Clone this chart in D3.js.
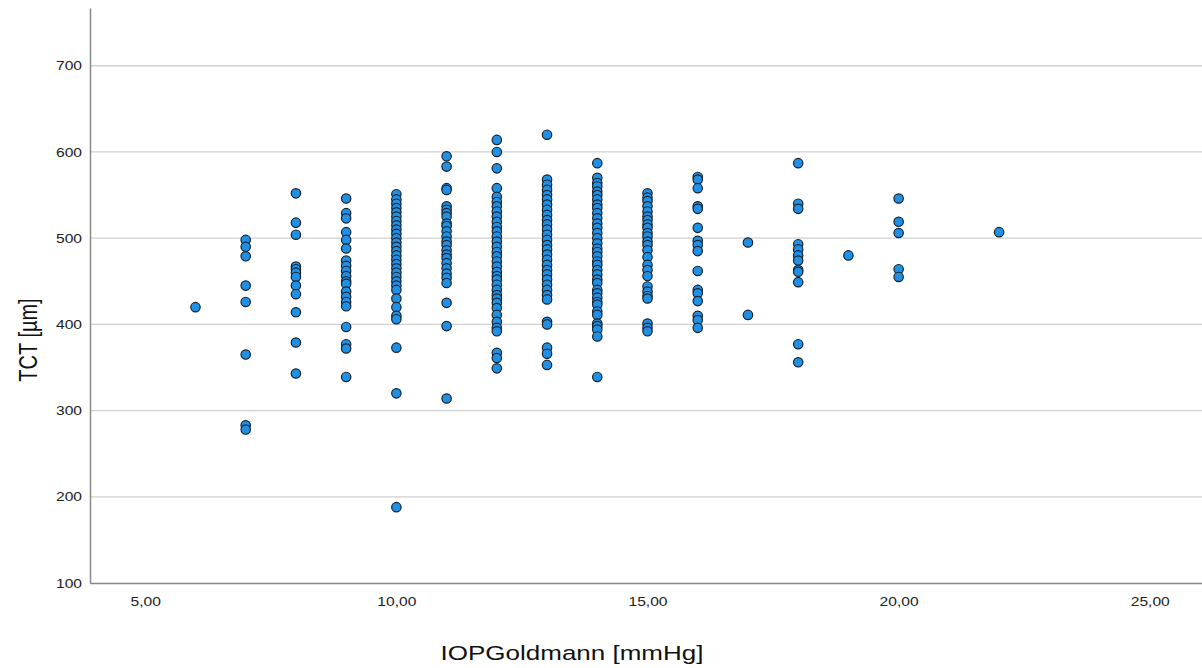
<!DOCTYPE html>
<html>
<head>
<meta charset="utf-8">
<script src="https://cdn.jsdelivr.net/npm/d3@7"></script>
<style>
  body { margin: 0; background: #fff; }
  text { font-family: "Liberation Sans", Arial, sans-serif; }
</style>
</head>
<body>
<div id="scatter"></div>
<script>
// TCT values per IOP (Goldmann) level
var tct6  = [420];
var tct7  = [498, 490, 479, 445, 426, 365, 283, 278];
var tct8  = [552, 518, 504, 467, 464, 460, 455, 445, 435, 414, 379, 343];
var tct9  = [546, 529, 523, 507, 498, 488, 474, 468, 462, 456, 450, 447, 438, 432, 426, 421, 397, 377, 372, 339];
var tct10 = [551, 545, 540, 535, 530, 525, 520, 515, 510, 505, 500, 495, 490, 485, 480, 475, 470, 465, 460, 455, 450, 445, 440, 430, 420, 410, 406, 373, 320, 188];
var tct11 = [595, 583, 558, 556, 537, 533, 529, 525, 517, 514, 508, 502, 496, 492, 486, 481, 477, 471, 465, 459, 454, 448, 425, 398, 314];
var tct12 = [614, 600, 581, 558, 548, 542, 537, 531, 525, 519, 513, 508, 502, 496, 490, 484, 479, 473, 467, 461, 456, 452, 446, 440, 434, 430, 425, 419, 411, 403, 396, 392, 367, 361, 349];
var tct13 = [620, 568, 562, 556, 550, 545, 539, 533, 527, 521, 516, 510, 504, 498, 492, 487, 481, 475, 469, 463, 458, 452, 446, 440, 434, 429, 403, 400, 373, 366, 353];
var tct14 = [587, 570, 564, 560, 554, 550, 545, 539, 535, 529, 523, 517, 512, 506, 500, 494, 488, 484, 479, 473, 469, 463, 458, 452, 448, 440, 436, 431, 426, 423, 415, 411, 401, 398, 394, 386, 339];
var tct15 = [552, 547, 543, 537, 531, 525, 521, 516, 512, 506, 502, 496, 492, 486, 478, 469, 463, 456, 444, 438, 433, 430, 401, 396, 392];
var tct16 = [571, 568, 558, 537, 534, 512, 497, 492, 485, 462, 440, 436, 427, 410, 405, 396];
var tct17 = [495, 411];
var tct18 = [587, 540, 534, 493, 487, 480, 474, 463, 461, 449, 377, 356];
var tct19 = [480];
var tct20 = [546, 519, 506, 464, 455];
var tct22 = [507];

var iopLevels = [6, 7, 8, 9, 10, 11, 12, 13, 14, 15, 16, 17, 18, 19, 20, 22];
var tctLists  = [tct6, tct7, tct8, tct9, tct10, tct11, tct12, tct13, tct14, tct15, tct16, tct17, tct18, tct19, tct20, tct22];

var xTicks = [5, 10, 15, 20, 25];
var yTicks = [100, 200, 300, 400, 500, 600, 700];

var points = [];
iopLevels.forEach(function(iop, i) {
  tctLists[i].forEach(function(v) {
    points.push({ iop: iop, tct: v });
  });
});

var svgWidth = 1202;
var svgHeight = 668;

// the original picture is stretched horizontally, so text gets scaled in x
var stretch = 1.3;

var svg = d3.select("#scatter")
  .append("svg")
  .attr("width", svgWidth)
  .attr("height", svgHeight);

var xScale = d3.scaleLinear()
  .domain([3.9, 26.04])
  .range([90, 1202]);

var yScale = d3.scaleLinear()
  .domain([100, 767])
  .range([583, 8]);

var commaFmt = d3.formatLocale({ decimal: ",", thousands: ".", grouping: [3], currency: ["", ""] }).format(".2f");

// grid lines
svg.append("g")
  .selectAll("line")
  .data(yTicks.filter(d => d > 100))
  .enter()
  .append("line")
  .attr("x1", 90)
  .attr("x2", 1202)
  .attr("y1", d => yScale(d))
  .attr("y2", d => yScale(d))
  .attr("stroke", "#d0d0d0")
  .attr("stroke-width", 1.3);

// axes
var leftAxis = d3.axisLeft(yScale).tickValues(yTicks).tickSize(0).tickPadding(8);
var bottomAxis = d3.axisBottom(xScale).tickValues(xTicks).tickSize(0).tickPadding(14).tickFormat(commaFmt);

var yAxisG = svg.append("g")
  .attr("transform", "translate(90,0)")
  .call(leftAxis);

var xAxisG = svg.append("g")
  .attr("transform", "translate(0,583)")
  .call(bottomAxis);

[yAxisG, xAxisG].forEach(function(g) {
  g.select(".domain").attr("stroke", "#888").attr("stroke-width", 1.5);
  g.selectAll("text")
    .attr("font-size", 12)
    .attr("fill", "#222");
});

yAxisG.selectAll(".tick text")
  .attr("dy", "0.35em")
  .attr("transform", function() {
    var x = +d3.select(this).attr("x");
    return "translate(" + x + ",0) scale(" + stretch + ",1) translate(" + (-x) + ",0)";
  });
xAxisG.selectAll(".tick text")
  .attr("transform", "scale(" + stretch + ",1)");

// points
svg.append("g")
  .selectAll("circle")
  .data(points)
  .enter()
  .append("circle")
  .attr("cx", d => xScale(d.iop))
  .attr("cy", d => yScale(d.tct))
  .attr("r", 4.7)
  .attr("fill", "#1e90e6")
  .attr("stroke", "#17212b")
  .attr("stroke-width", 1.2);

// axis titles
svg.append("text")
  .attr("transform", "translate(572,660) scale(" + stretch + ",1)")
  .attr("text-anchor", "middle")
  .attr("font-size", 20)
  .attr("fill", "#111")
  .text("IOPGoldmann [mmHg]");

svg.append("text")
  .attr("transform", "translate(37,340) scale(" + stretch + ",1) rotate(-90)")
  .attr("text-anchor", "middle")
  .attr("font-size", 20)
  .attr("fill", "#111")
  .text("TCT [µm]");
</script>
</body>
</html>
